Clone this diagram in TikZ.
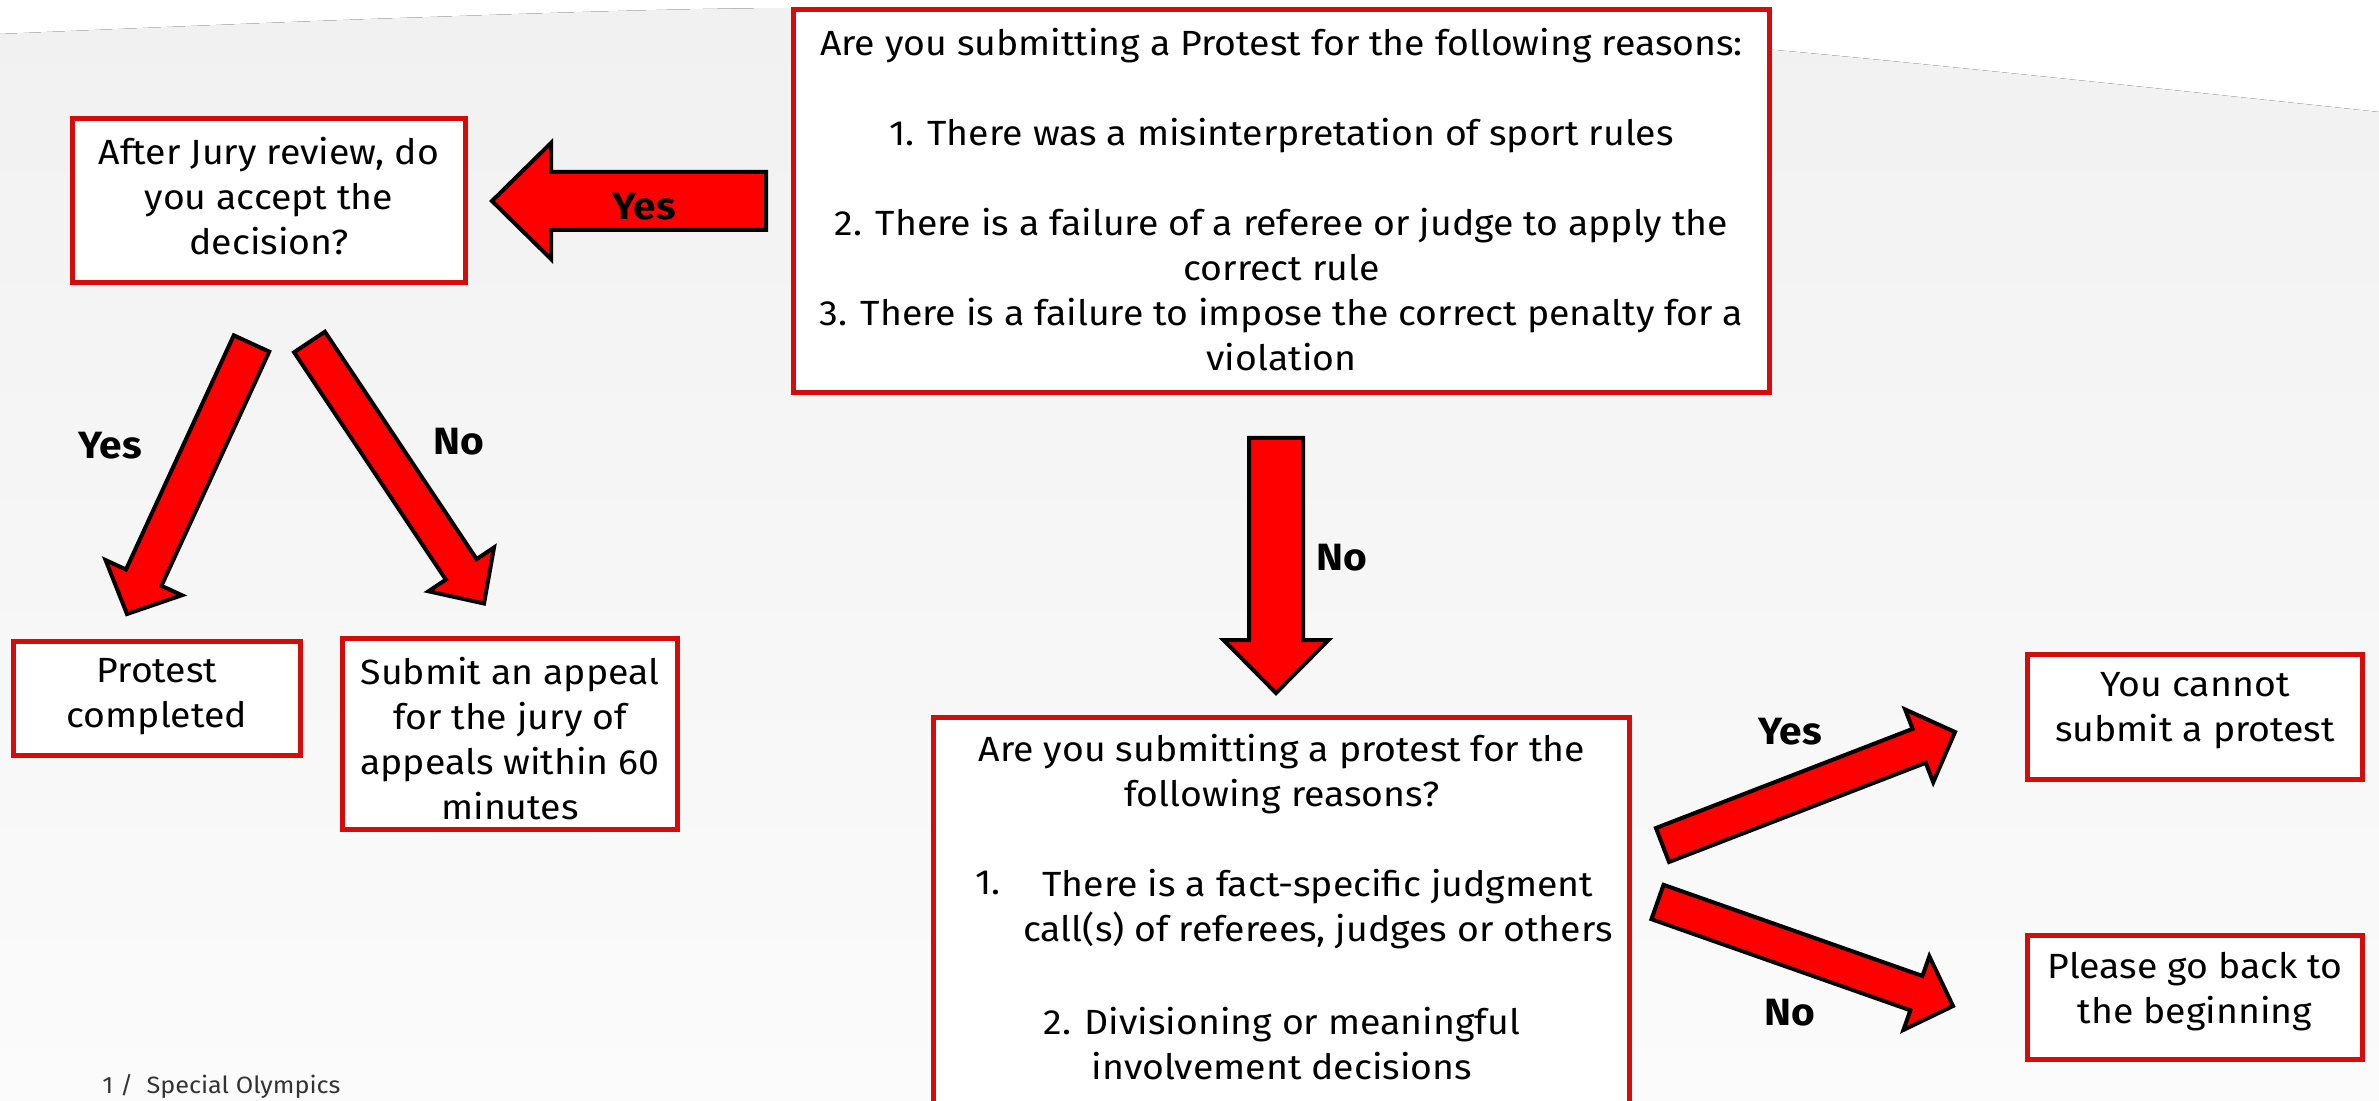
\documentclass[tikz,border=0pt]{standalone}
\usepackage{fontspec}
\setmainfont{Fira Sans}[FakeStretch=1.07]
\usetikzlibrary{calc}
\definecolor{boxred}{RGB}{214,12,10}
\definecolor{arrred}{RGB}{255,0,0}
\definecolor{bgtop}{RGB}{241,241,241}
\definecolor{bgbot}{RGB}{251,251,251}
\definecolor{footgray}{RGB}{51,51,51}
\newcommand{\sketcharrow}[5]{%
  \coordinate (hb) at ($(#2)!#5!(#1)$);
  \draw[arrowshape] ($(#1)!#3!90:(#2)$) -- ($(hb)!#3!90:(#2)$) -- ($(hb)!#4!90:(#2)$) -- (#2)
     -- ($(hb)!#4!-90:(#2)$) -- ($(hb)!#3!-90:(#2)$) -- ($(#1)!#3!-90:(#2)$) -- cycle;
}
\begin{document}
\begin{tikzpicture}[x=0.5pt,y=-0.5pt,
  boxstyle/.style={draw=boxred, line width=2.5pt, fill=white, inner sep=0pt},
  txt/.style={align=center, font=\fontsize{17.5}{22.5}\selectfont, inner sep=0pt},
  lbl/.style={font=\bfseries\fontsize{19}{22.5}\selectfont, inner sep=0pt},
  arrowshape/.style={fill=arrred, draw=black, line width=2pt, line join=miter}]
\clip (0,0) rectangle (2379,1101);
\fill[white] (0,0) rectangle (2379,1101);
\fill[top color=bgtop, bottom color=bgbot]
  plot[smooth] coordinates {(0,34) (400,18) (800,8) (1300,18) (1775,50) (2379,112)}
  -- (2379,1101) -- (0,1101) -- cycle;

% boxes
\node[boxstyle, minimum width=196.5pt, minimum height=82pt] (bA) at (269,200.5) {};
\node[boxstyle, minimum width=488pt, minimum height=191.5pt] (bB) at (1281.5,201) {};
\node[boxstyle, minimum width=143.75pt, minimum height=57pt] (bC) at (157,698.5) {};
\node[boxstyle, minimum width=167.5pt, minimum height=95.5pt] (bD) at (510,734) {};
\node[boxstyle, minimum width=348pt, minimum height=193pt] (bE) at (1281.5,910) {};
\node[boxstyle, minimum width=167.5pt, minimum height=62.5pt] (bF) at (2195,717) {};
\node[boxstyle, minimum width=167.5pt, minimum height=62pt] (bG) at (2195,997.5) {};

% texts
\node[txt] (tA) at (269,196) {After Jury review, do\\you accept the\\decision?};
\node[txt] (tB) at (1281.5,199.5) {Are you submitting a Protest for the following reasons:\\[22.5pt]
  1. There was a misinterpretation of sport rules\\[22.5pt]
  2. There is a failure of a referee or judge to apply the\\correct rule\\
  3. There is a failure to impose the correct penalty for a\\violation};
\node[txt] (tC) at (157,697) {Protest\\completed};
\node[txt] (tD) at (510,738.5) {Submit an appeal\\for the jury of\\appeals within 60\\minutes};
\node[txt] (tE1) at (1282,774.5) {Are you submitting a protest for the\\following reasons?};
\node[txt, anchor=base] (tE2) at (988,894) {1.};
\node[txt] (tE3) at (1318,909) {There is a fact-specific judgment\\call(s) of referees, judges or others};
\node[txt] (tE4) at (1282,1044) {2. Divisioning or meaningful\\involvement decisions};
\node[txt] (tF) at (2195,710.5) {You cannot\\submit a protest};
\node[txt] (tG) at (2195,991.5) {Please go back to\\the beginning};

% arrows
\coordinate (a1t) at (766,201);     \coordinate (a1p) at (492,201);
\coordinate (a2t) at (251.5,343.5); \coordinate (a2p) at (127,614);
\coordinate (a3t) at (309.5,342);   \coordinate (a3p) at (484,603.5);
\coordinate (a4t) at (1276,438);    \coordinate (a4p) at (1276,693);
\coordinate (a5t) at (1662.5,845);  \coordinate (a5p) at (1955,732);
\coordinate (a6t) at (1657.5,902);  \coordinate (a6p) at (1953,1006);
\sketcharrow{a1t}{a1p}{14.5pt}{29pt}{29.5pt}
\sketcharrow{a2t}{a2p}{9.75pt}{21pt}{20pt}
\sketcharrow{a3t}{a3p}{9.25pt}{19.7pt}{20.5pt}
\sketcharrow{a4t}{a4p}{13.5pt}{26.25pt}{26.5pt}
\sketcharrow{a5t}{a5p}{9.1pt}{19.5pt}{19.2pt}
\sketcharrow{a6t}{a6p}{9.1pt}{19.5pt}{19.4pt}

% labels
\node[lbl] (lY1) at (644,207) {Yes};
\node[lbl] (lY2) at (110,446) {Yes};
\node[lbl] (lN2) at (459,442) {No};
\node[lbl] (lN1) at (1342,558) {No};
\node[lbl] (lY3) at (1790,732) {Yes};
\node[lbl] (lN3) at (1790,1013) {No};

% footer
\node[anchor=base west, inner sep=0pt, text=footgray, font=\fontsize{11.8}{13}\selectfont] (foot) at (102,1093) {1 /\ \ Special Olympics};
\end{tikzpicture}
\end{document}
